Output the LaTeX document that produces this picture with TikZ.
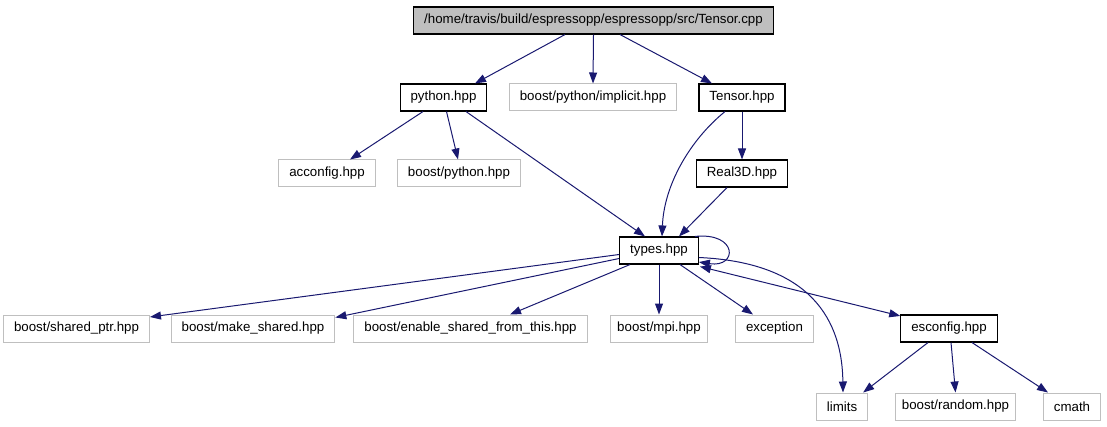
\documentclass[tikz,border=0pt]{standalone}
\usepackage{fontspec}
\setmainfont{Liberation Sans}
\usetikzlibrary{arrows.meta,calc}
\definecolor{edgecol}{HTML}{191970}
\definecolor{greybox}{HTML}{BFBFBF}
\begin{document}
\begin{tikzpicture}[x=1pt,y=-1pt,
  box/.style={draw=black,line width=1.1pt,minimum height=27pt,inner xsep=10.5pt,inner ysep=0pt,
    font=\fontsize{13.3}{15}\selectfont,anchor=center},
  extbox/.style={box,draw=greybox,line width=1pt},
  rootbox/.style={box,fill=greybox},
  edge/.style={draw=edgecol,line width=1pt,-{Triangle[length=11pt,width=8pt]}},
  biedge/.style={draw=edgecol,line width=1pt,{Triangle[length=11pt,width=8pt]}-{Triangle[length=11pt,width=8pt]}}]
\useasboundingbox (0,0) rectangle (1107,427);
\node[rootbox] (root) at (593.5,20.5) {/home/travis/build/espressopp/espressopp/src/Tensor.cpp};
\node[box] (python) at (443.5,97.5) {python.hpp};
\node[extbox] (implicit) at (593,97.5) {boost/python/implicit.hpp};
\node[box] (tensor) at (742,97.5) {Tensor.hpp};
\node[extbox] (acconfig) at (327,173.5) {acconfig.hpp};
\node[extbox] (bpython) at (459,173.5) {boost/python.hpp};
\node[box] (real) at (742,173.5) {Real3D.hpp};
\node[box] (types) at (659,250.5) {types.hpp};
\node[extbox] (shared) at (76.5,328.5) {boost/shared\_ptr.hpp};
\node[extbox] (make) at (253,328.5) {boost/make\_shared.hpp};
\node[extbox] (enable) at (470.5,328.5) {boost/enable\_shared\_from\_this.hpp};
\node[extbox,inner xsep=7pt] (mpi) at (659,328.5) {boost/mpi.hpp};
\node[extbox] (exc) at (774.5,328.5) {exception};
\node[box] (escfg) at (949,328.5) {esconfig.hpp};
\node[extbox] (limits) at (842,406.5) {limits};
\node[extbox,inner xsep=6pt] (random) at (955.5,406.5) {boost/random.hpp};
\node[extbox] (cmath) at (1072,406.5) {cmath};

\draw[edge] ($(root.south)+(-28.5,0)$) -- ($(python.north)+(31.5,0)$);
\draw[edge] (root.south) -- (implicit.north);
\draw[edge] ($(root.south)+(26.5,0)$) -- ($(tensor.north)+(-30,0)$);
\draw[edge] ($(python.south)+(-20.5,0)$) -- ($(acconfig.north)+(23,0)$);
\draw[edge] ($(python.south)+(3,0)$) -- ($(bpython.north)+(-1,0)$);
\draw[edge] ($(python.south)+(22.5,0)$) -- ($(types.north)+(-14,0)$);
\draw[edge] ($(tensor.south)+(-17,0)$) .. controls (690,140) and (664,185) .. ($(types.north)+(3,0)$);
\draw[edge] (tensor.south) -- (real.north);
\draw[edge] ($(real.south)+(-15,0)$) -- ($(types.north)+(20,0)$);
\draw[edge] ($(types.north east)+(-4,0)$) .. controls (738,232) and (738,268) .. ($(types.south east)+(0,-2.5)$);
\draw[edge] ($(types.west)+(0,4)$) -- ($(shared.north east)+(0,2.5)$);
\draw[edge] ($(types.west)+(0,8)$) -- ($(make.north east)+(0,3)$);
\draw[edge] ($(types.south)+(-29,0)$) -- ($(enable.north)+(39.5,0)$);
\draw[edge] (types.south) -- (mpi.north);
\draw[edge] ($(types.south)+(21,0)$) -- ($(exc.north)+(-21.5,0)$);
\draw[edge] ($(types.east)+(0,7)$) .. controls (800,262) and (842,310) .. ($(limits.north)+(1,0)$);
\draw[biedge] ($(types.south east)+(1,2)$) -- ($(escfg.north west)+(0,1.5)$);
\draw[edge] ($(escfg.south)+(-21,0)$) -- ($(limits.north east)+(-5,0)$);
\draw[edge] ($(escfg.south)+(2,0)$) -- (random.north);
\draw[edge] ($(escfg.south)+(23,0)$) -- ($(cmath.north)+(-24,0)$);
\end{tikzpicture}
\end{document}
